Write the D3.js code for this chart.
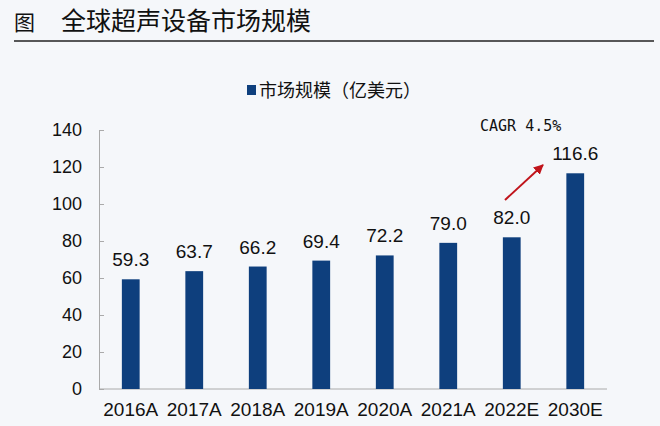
<!DOCTYPE html>
<html><head><meta charset="utf-8">
<script src="https://cdn.jsdelivr.net/npm/d3@7"></script>
<style>html,body{margin:0;padding:0;background:#f5f7fa;}svg{display:block;}</style>
</head><body>
<script>
const categories = ["2016A","2017A","2018A","2019A","2020A","2021A","2022E","2030E"];
const values = [59.3,63.7,66.2,69.4,72.2,79.0,82.0,116.6];
const yTicks = [0,20,40,60,80,100,120,140];
const seriesName = "市场规模（亿美元）";
const title = "全球超声设备市场规模";
const cagrLabel = "CAGR 4.5%";

const W = 660, H = 426;
const svg = d3.select("body").append("svg").attr("width", W).attr("height", H);
svg.append("rect").attr("width", W).attr("height", H).attr("fill", "#f5f7fa");

const font = "'Noto Sans CJK SC', 'Liberation Sans', Arial, sans-serif";
const numFont = "'Liberation Sans', Arial, sans-serif";

// Title
svg.append("text").attr("x", 14).attr("y", 30).attr("font-family", font)
  .attr("font-size", 21).attr("fill", "#111").text("图");
svg.append("text").attr("x", 61).attr("y", 30).attr("font-family", font)
  .attr("font-size", 25).attr("fill", "#111").text(title);
svg.append("line").attr("x1", 14).attr("x2", 654).attr("y1", 41).attr("y2", 41)
  .attr("stroke", "#222").attr("stroke-width", 1.5);

const x = d3.scaleBand().domain(categories).range([99, 607]).paddingInner(0.72).paddingOuter(0.36);
const y = d3.scaleLinear().domain([0, 140]).range([389, 130]);

// Y axis
const yAxis = svg.append("g").attr("transform", "translate(99,0)")
  .call(d3.axisLeft(y).tickValues(yTicks).tickSize(-5).tickPadding(17));
yAxis.select(".domain").attr("stroke", "#aaa");
yAxis.selectAll(".tick line").attr("stroke", "#aaa");
yAxis.selectAll(".tick text").attr("font-family", numFont).attr("font-size", 18).attr("fill", "#111");

// X axis
const xAxis = svg.append("g").attr("transform", "translate(0,389)")
  .call(d3.axisBottom(x).tickSize(0).tickPadding(14));
xAxis.select(".domain").attr("stroke", "#aaa").attr("d", "M99,0H607");
xAxis.selectAll(".tick text").attr("font-family", numFont).attr("font-size", 19).attr("fill", "#111");

// Bars
svg.selectAll("rect.bar").data(values).enter().append("rect").attr("class", "bar")
  .attr("x", (d, i) => x(categories[i])).attr("width", x.bandwidth())
  .attr("y", d => y(d)).attr("height", d => y(0) - y(d)).attr("fill", "#0e3f7d");

// Value labels
svg.selectAll("text.val").data(values).enter().append("text").attr("class", "val")
  .attr("x", (d, i) => x(categories[i]) + x.bandwidth() / 2)
  .attr("y", d => y(d) - 13).attr("text-anchor", "middle")
  .attr("font-family", numFont).attr("font-size", 19).attr("fill", "#111")
  .text(d => d.toFixed(1));

// Legend
svg.append("rect").attr("x", 247).attr("y", 85).attr("width", 9).attr("height", 10).attr("fill", "#0e3f7d");
svg.append("text").attr("x", 259).attr("y", 97).attr("font-family", font)
  .attr("font-size", 18).attr("fill", "#111").text(seriesName);

// CAGR annotation
svg.append("text").attr("x", 480).attr("y", 131).attr("font-family", "'DejaVu Sans Mono', monospace")
  .attr("font-size", 15).attr("fill", "#111").text(cagrLabel);
svg.append("defs").append("marker").attr("id", "ah").attr("viewBox", "0 0 10 10")
  .attr("refX", 9).attr("refY", 5).attr("markerWidth", 5).attr("markerHeight", 5)
  .attr("orient", "auto").append("path").attr("d", "M0,0L10,5L0,10z").attr("fill", "#c0141b");
svg.append("line").attr("x1", 505).attr("y1", 200).attr("x2", 543).attr("y2", 165)
  .attr("stroke", "#c0141b").attr("stroke-width", 2).attr("marker-end", "url(#ah)");
</script>
</body></html>
